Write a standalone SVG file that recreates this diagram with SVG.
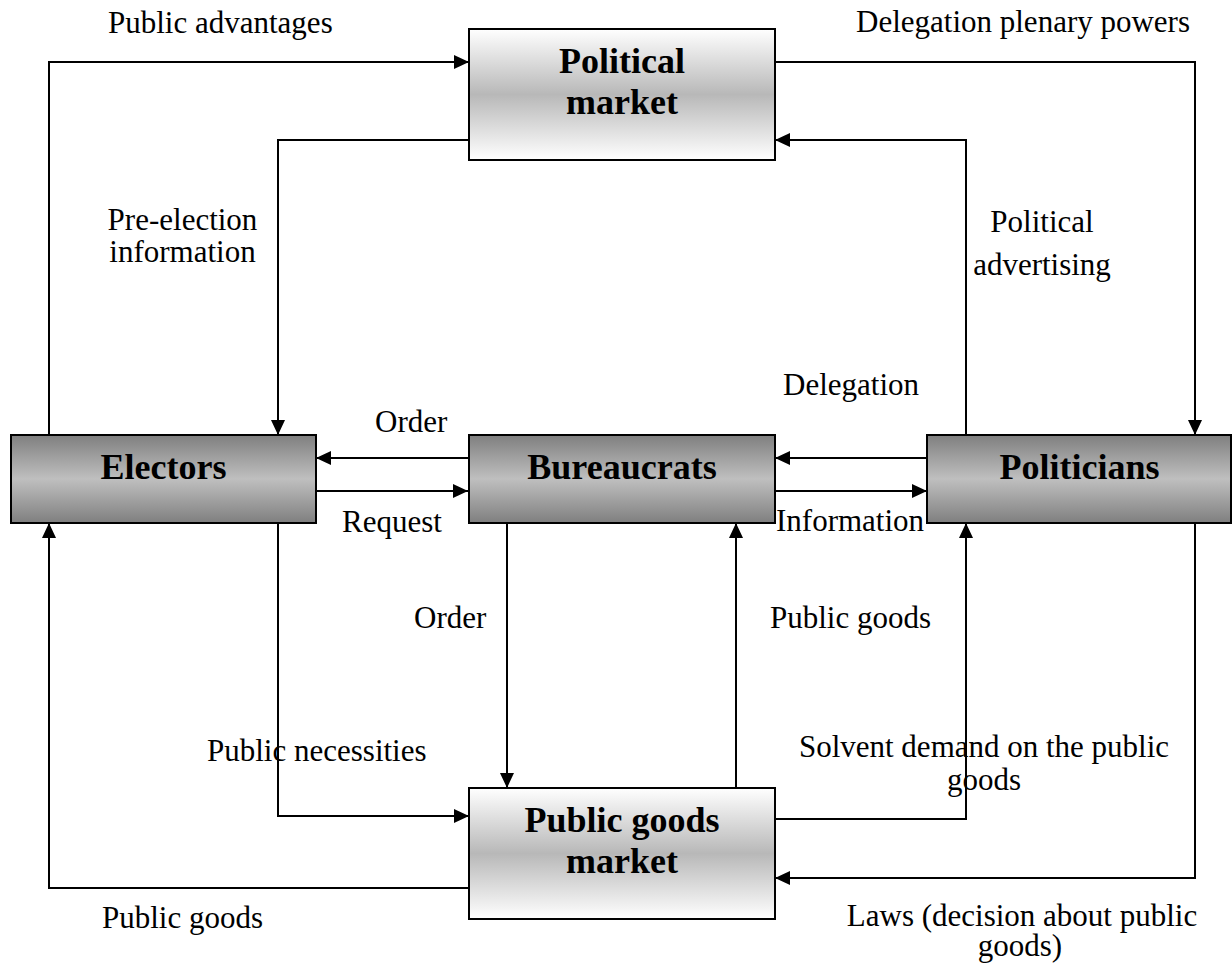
<svg xmlns="http://www.w3.org/2000/svg" width="1232" height="963" viewBox="0 0 1232 963">
<style>
.lbl{font-family:"Liberation Serif","Times New Roman",serif;font-size:31px;fill:#000}
.ttl{font-family:"Liberation Serif","Times New Roman",serif;font-size:36px;font-weight:bold;fill:#000;text-anchor:middle}
.c{text-anchor:middle}
.box{stroke:#000;stroke-width:2}
.ln{fill:none;stroke:#000;stroke-width:2}
.ar{marker-end:url(#ah)}
</style>
<defs>
<linearGradient id="light" x1="0" y1="0" x2="0" y2="1">
<stop offset="0" stop-color="#ffffff"/>
<stop offset="0.5" stop-color="#b8b8b8"/>
<stop offset="1" stop-color="#ffffff"/>
</linearGradient>
<linearGradient id="dark" x1="0" y1="0" x2="0" y2="1">
<stop offset="0" stop-color="#7f7f7f"/>
<stop offset="0.5" stop-color="#bfbfbf"/>
<stop offset="1" stop-color="#7f7f7f"/>
</linearGradient>
<marker id="ah" markerWidth="15" markerHeight="14" refX="15" refY="7" orient="auto" markerUnits="userSpaceOnUse">
<path d="M0,0 L15,7 L0,14 Z" fill="#000"/>
</marker>
</defs>
<g id="connectors">
<polyline class="ln ar" points="49,435 49,62 469,62"/>
<polyline class="ln ar" points="775,62 1195,62 1195,435"/>
<polyline class="ln ar" points="469,140 278,140 278,435"/>
<polyline class="ln ar" points="966,435 966,140 775,140"/>
<line class="ln ar" x1="468" y1="458" x2="316" y2="458"/>
<line class="ln ar" x1="316" y1="491" x2="468" y2="491"/>
<line class="ln ar" x1="927" y1="458" x2="775" y2="458"/>
<line class="ln ar" x1="775" y1="491" x2="927" y2="491"/>
<line class="ln ar" x1="507" y1="523" x2="507" y2="788"/>
<line class="ln ar" x1="736" y1="788" x2="736" y2="523"/>
<polyline class="ln ar" points="278,523 278,816 469,816"/>
<polyline class="ln ar" points="775,819 966,819 966,523"/>
<polyline class="ln ar" points="1195,523 1195,878 775,878"/>
<polyline class="ln ar" points="469,888 49,888 49,523"/>
</g>
<g id="labels">
<text class="lbl" x="108" y="33">Public advantages</text>
<text class="lbl" x="856" y="32">Delegation plenary powers</text>
<text class="lbl c" x="182.5" y="230">Pre-election</text>
<text class="lbl c" x="182.5" y="262">information</text>
<text class="lbl c" x="1042" y="232">Political</text>
<text class="lbl c" x="1042" y="275">advertising</text>
<text class="lbl" x="783" y="395">Delegation</text>
<text class="lbl" x="375" y="432">Order</text>
<text class="lbl" x="342" y="532">Request</text>
<text class="lbl" x="776" y="531">Information</text>
<text class="lbl" x="414" y="628">Order</text>
<text class="lbl" x="770" y="628">Public goods</text>
<text class="lbl" x="207" y="761">Public necessities</text>
<text class="lbl c" x="984" y="757">Solvent demand on the public</text>
<text class="lbl c" x="984" y="790">goods</text>
<text class="lbl" x="102" y="928">Public goods</text>
<text class="lbl c" x="1022" y="926">Laws (decision about public</text>
<text class="lbl c" x="1020" y="956">goods)</text>
</g>
<g id="political-market">
<rect class="box" x="469" y="29" width="306" height="131" fill="url(#light)"/>
<text class="ttl" x="622" y="73">Political</text>
<text class="ttl" x="622" y="114">market</text>
</g>
<g id="electors">
<rect class="box" x="11" y="435" width="305" height="88" fill="url(#dark)"/>
<text class="ttl" x="163.5" y="479">Electors</text>
</g>
<g id="bureaucrats">
<rect class="box" x="469" y="435" width="306" height="88" fill="url(#dark)"/>
<text class="ttl" x="622" y="479">Bureaucrats</text>
</g>
<g id="politicians">
<rect class="box" x="927" y="435" width="304" height="88" fill="url(#dark)"/>
<text class="ttl" x="1079.5" y="479">Politicians</text>
</g>
<g id="public-goods-market">
<rect class="box" x="469" y="788" width="306" height="131" fill="url(#light)"/>
<text class="ttl" x="622" y="832">Public goods</text>
<text class="ttl" x="622" y="873">market</text>
</g>
</svg>
